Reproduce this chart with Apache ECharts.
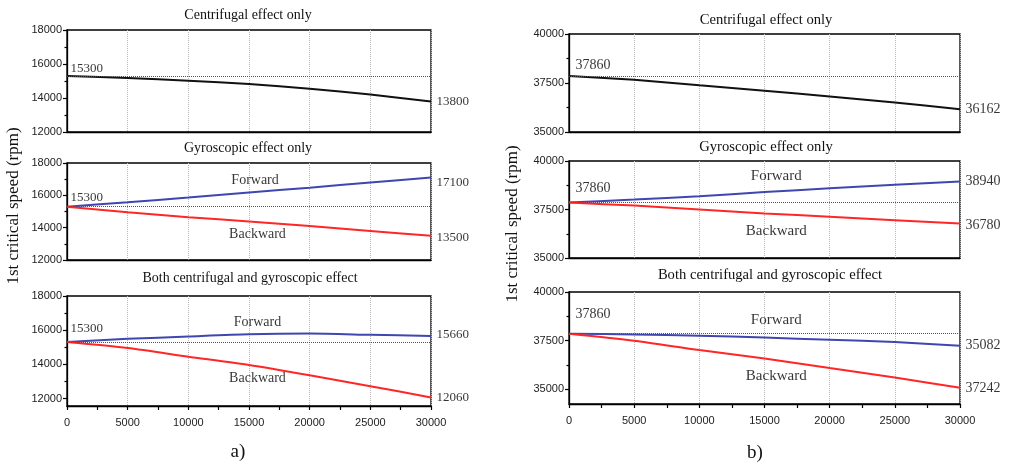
<!DOCTYPE html>
<html><head><meta charset="utf-8">
<script src="https://cdn.jsdelivr.net/npm/echarts@6/dist/echarts.min.js"></script>
<style>html,body{margin:0;padding:0;background:#fff}#c{width:1012px;height:464px}</style>
</head><body><div id="c"></div><script>
// ---- data ----
const speeds = [0, 5000, 10000, 15000, 20000, 25000, 30000];
// a)
const aCentrifugal  = [15300, 15180, 15020, 14820, 14550, 14200, 13800];
const aGyroForward  = [15300, 15570, 15860, 16180, 16470, 16800, 17100];
const aGyroBackward = [15300, 14950, 14650, 14380, 14100, 13800, 13500];
const aBothForward  = [15300, 15490, 15630, 15760, 15800, 15730, 15660];
const aBothBackward = [15300, 14950, 14450, 13960, 13360, 12720, 12060];
// b)
const bCentrifugal  = [37860, 37660, 37380, 37110, 36810, 36500, 36162];
const bGyroForward  = [37860, 38010, 38180, 38400, 38590, 38780, 38940];
const bGyroBackward = [37860, 37700, 37500, 37300, 37125, 36950, 36780];
const bBothForward  = [37860, 37820, 37760, 37660, 37550, 37430, 37242];
const bBothBackward = [37860, 37500, 37020, 36590, 36100, 35610, 35082];
const refValues = [15300, 37860];
const aYTicks = [12000, 14000, 16000, 18000];
const aYMinor = [13000, 15000, 17000];
const bYTicks = [35000, 37500, 40000];
const bYMinor = [36250, 38750];
const panelTitles = ['Centrifugal effect only', 'Gyroscopic effect only', 'Both centrifugal and gyroscopic effect'];
const startLabels = ['15300', '37860'];
const aEndLabels = [['13800'], ['17100', '13500'], ['15660', '12060']];
const bEndLabels = [['36162'], ['38940', '36780'], ['35082', '37242']];
const curveNames = ['Forward', 'Backward'];
const yAxisTitle = '1st critical speed (rpm)';
const partLabels = ['a)', 'b)'];

// ---- layout / style ----
const SERIF = '"Liberation Serif","Times New Roman",serif';
const SANS = '"Liberation Sans",Arial,sans-serif';
const BLACK = '#111', BLUE = '#3f46b0', RED = '#ff2626';
const grids = [
  {left: 67, top: 30, width: 364, height: 102},
  {left: 67, top: 163, width: 364, height: 97},
  {left: 67, top: 296, width: 364, height: 110},
  {left: 569, top: 34, width: 391, height: 98},
  {left: 569, top: 161, width: 391, height: 97},
  {left: 569, top: 292, width: 391, height: 112}
];
const yRanges = [[12000, 18000], [12000, 18000], [11560, 18000], [35000, 40000], [35000, 40000], [34250, 40000]];
const panels = [
  {curves: [[aCentrifugal, BLACK]], ends: aEndLabels[0], endDy: [0], startDy: -7, side: 0},
  {curves: [[aGyroForward, BLUE], [aGyroBackward, RED]], ends: aEndLabels[1], endDy: [5, 2], startDy: -9, side: 0,
   names: [[15500, 16900], [15700, 13590]]},
  {curves: [[aBothForward, BLUE], [aBothBackward, RED]], ends: aEndLabels[2], endDy: [-1, 0], startDy: -14, side: 0,
   names: [[15700, 16470], [15700, 13180]]},
  {curves: [[bCentrifugal, BLACK]], ends: bEndLabels[0], endDy: [0], startDy: -11, side: 1},
  {curves: [[bGyroForward, BLUE], [bGyroBackward, RED]], ends: bEndLabels[1], endDy: [0, 2], startDy: -14, side: 1,
   names: [[15900, 39210], [15900, 36380]]},
  {curves: [[bBothForward, BLUE], [bBothBackward, RED]], ends: bEndLabels[2], endDy: [0, 1], startDy: -19, side: 1,
   names: [[15900, 38560], [15900, 35700]]}
];
const plain = v => String(v);

const xAxes = [], yAxes = [], series = [];
panels.forEach((p, i) => {
  const bottom = i % 3 === 2;
  const numFont = p.side ? 14 : 13;
  const nameFont = p.side ? 15 : 14;
  xAxes.push({
    type: 'value', gridIndex: i, min: 0, max: 30000, interval: 5000,
    axisLine: {show: true, onZero: false, lineStyle: {color: '#000', width: 1.3}},
    axisTick: {show: bottom, length: 4, lineStyle: {color: '#000', width: 1.2}},
    minorTick: {show: bottom, splitNumber: 2, length: 4, lineStyle: {color: '#000', width: 1.2}},
    axisLabel: {show: bottom, formatter: plain, fontFamily: SANS, fontSize: 11, color: '#222', margin: 11},
    splitLine: {show: true, lineStyle: {type: 'dotted', color: '#b8b8b8', width: 1}}
  });
  const ticks = p.side ? bYTicks : aYTicks;
  const minor = p.side ? bYMinor : aYMinor;
  yAxes.push({
    type: 'value', gridIndex: i, min: yRanges[i][0], max: yRanges[i][1], position: 'left',
    axisLine: {show: true, onZero: false, lineStyle: {color: '#000', width: 1.3}},
    axisTick: {show: true, length: 4, customValues: ticks, lineStyle: {color: '#000', width: 1.2}},
    axisLabel: {customValues: ticks, formatter: plain, fontFamily: SANS, fontSize: 11, color: '#222', margin: 5},
    splitLine: {show: false}
  });
  yAxes.push({
    type: 'value', gridIndex: i, min: yRanges[i][0], max: yRanges[i][1], position: 'left',
    axisLine: {show: false},
    axisTick: {show: true, length: 2.5, customValues: minor, lineStyle: {color: '#000', width: 1.2}},
    axisLabel: {show: false}, splitLine: {show: false}
  });
  const ref = refValues[p.side];
  p.curves.forEach(([vals, color], k) => {
    series.push({
      type: 'line', xAxisIndex: i, yAxisIndex: 2 * i, smooth: 0.25, symbol: 'none',
      data: speeds.map((x, j) => [x, vals[j]]),
      lineStyle: {color, width: 2}, itemStyle: {color}, z: 3,
      markLine: k === 0 ? {
        silent: true, symbol: 'none', label: {show: false},
        lineStyle: {type: 'dotted', color: '#555', width: 1},
        data: [{yAxis: ref}]
      } : undefined
    });
  });
  // annotation texts
  const items = [];
  const first = p.curves[0][0];
  items.push({value: [speeds[0], first[0]],
    label: {formatter: startLabels[p.side], position: 'right', distance: p.side ? 6 : 3, offset: [0, p.startDy]}});
  p.curves.forEach(([vals], k) => {
    items.push({value: [speeds[speeds.length - 1], vals[vals.length - 1]],
      label: {formatter: p.ends[k], position: 'right', distance: 5, offset: [0, p.endDy[k]]}});
  });
  (p.names || []).forEach((c, k) => {
    items.push({value: c, label: {formatter: curveNames[k], position: 'inside', fontSize: nameFont}});
  });
  series.push({
    type: 'scatter', xAxisIndex: i, yAxisIndex: 2 * i, symbolSize: 1, silent: true, z: 5,
    itemStyle: {color: 'rgba(0,0,0,0)'},
    label: {show: true, fontFamily: SERIF, fontSize: numFont, color: '#000'},
    data: items
  });
});

const titleCenters = [[248, 15], [248, 148], [250, 278], [766, 20], [766, 147], [770, 275]];
const graphic = titleCenters.map((c, i) => ({
  type: 'text', x: c[0], y: c[1],
  style: {text: panelTitles[i % 3], font: (i < 3 ? '14px ' : '14.6px ') + SERIF, fill: '#111',
    textAlign: 'center', textVerticalAlign: 'middle'}
}));
[[14, 206], [513, 224]].forEach(c => graphic.push({
  type: 'text', x: c[0], y: c[1], rotation: Math.PI / 2,
  style: {text: yAxisTitle, font: '17px ' + SERIF, fill: '#111', textAlign: 'center', textVerticalAlign: 'middle'}
}));
[[238, 452], [755, 453]].forEach((c, i) => graphic.push({
  type: 'text', x: c[0], y: c[1],
  style: {text: partLabels[i], font: '19px ' + SERIF, fill: '#111', textAlign: 'center', textVerticalAlign: 'middle'}
}));

const chart = echarts.init(document.getElementById('c'), null, {renderer: 'canvas'});
chart.setOption({
  animation: false,
  backgroundColor: '#fff',
  grid: grids.map(g => Object.assign({show: true, borderColor: '#000', borderWidth: 1.3, backgroundColor: 'transparent'}, g)),
  xAxis: xAxes,
  yAxis: yAxes,
  series,
  graphic
});
</script></body></html>
